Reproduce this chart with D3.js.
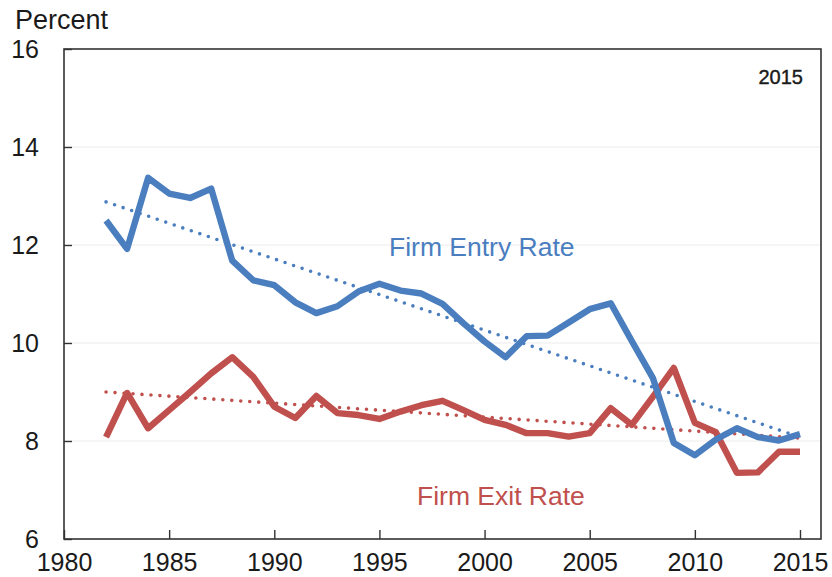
<!DOCTYPE html>
<html>
<head>
<meta charset="utf-8">
<script src="https://cdn.jsdelivr.net/npm/d3@7"></script>
<style>
  html, body { margin: 0; padding: 0; background: #fff; }
  svg { display: block; font-family: "Liberation Sans", Arial, sans-serif; }
</style>
</head>
<body>
<svg id="chart" width="832" height="577"></svg>
<script>
const years = d3.range(1982, 2016);
const entryRate = [12.5, 11.92, 13.37, 13.05, 12.96, 13.15, 11.68, 11.28, 11.18, 10.83,
                   10.61, 10.75, 11.05, 11.21, 11.07, 11.01, 10.8, 10.4, 10.03, 9.71,
                   10.14, 10.15, 10.42, 10.69, 10.81, 10.04, 9.29, 7.96, 7.71, 8.03,
                   8.26, 8.08, 8.01, 8.14];
const exitRate = [8.08, 8.98, 8.26, 8.63, 9.0, 9.38, 9.71, 9.31, 8.7, 8.47,
                  8.92, 8.57, 8.53, 8.45, 8.6, 8.73, 8.82, 8.63, 8.43, 8.33,
                  8.16, 8.16, 8.09, 8.16, 8.67, 8.33, 8.9, 9.49, 8.37, 8.18,
                  7.35, 7.36, 7.78, 7.78];
const trendYears = [1982, 2015];
const entryTrend = [12.88, 8.08];
const exitTrend = [9.0, 8.06];
const yTicks = [6, 8, 10, 12, 14, 16];
const xTicks = [1980, 1985, 1990, 1995, 2000, 2005, 2010, 2015];

const blue = "#4a7ebf", red = "#c0504d";
const svg = d3.select("#chart");
const L = 64, R = 821, T = 49, B = 539;
const x = d3.scaleLinear().domain([1980, 2015]).range([L, 800]);
const y = d3.scaleLinear().domain([6, 16]).range([B, T]);

// gridlines
svg.append("g").selectAll("line").data(yTicks.filter(d => d > 6 && d < 16)).join("line")
  .attr("x1", L).attr("x2", R).attr("y1", d => y(d)).attr("y2", d => y(d))
  .attr("stroke", "#ececec").attr("stroke-width", 1);

// frame
svg.append("rect").attr("x", L).attr("y", T).attr("width", R - L).attr("height", B - T)
  .attr("fill", "none").attr("stroke", "#333").attr("stroke-width", 1.6);

// y axis (ticks inward)
const yAxis = d3.axisLeft(y).tickValues(yTicks).tickSize(-8).tickPadding(24).tickFormat(d3.format("d"));
const gy = svg.append("g").attr("transform", `translate(${L},0)`).call(yAxis);
gy.select(".domain").remove();
gy.selectAll(".tick line").attr("stroke", "#333").attr("stroke-width", 1.4);
gy.selectAll(".tick text").attr("font-size", 25).attr("fill", "#1a1a1a")
  .attr("font-family", "Liberation Sans, Arial, sans-serif").attr("x", -25);

// x axis (ticks inward)
const xAxis = d3.axisBottom(x).tickValues(xTicks).tickSize(-9).tickPadding(0).tickFormat(d3.format("d"));
const gx = svg.append("g").attr("transform", `translate(0,${B})`).call(xAxis);
gx.select(".domain").remove();
gx.selectAll(".tick line").attr("stroke", "#333").attr("stroke-width", 1.4);
gx.selectAll(".tick text").attr("font-size", 25).attr("fill", "#1a1a1a")
  .attr("font-family", "Liberation Sans, Arial, sans-serif").attr("y", 14).attr("dy", "0.71em");

// trend lines
const tline = d3.line().x(d => x(d[0])).y(d => y(d[1]));
[[entryTrend, blue], [exitTrend, red]].forEach(([vals, col]) => {
  svg.append("path").datum(trendYears.map((yr, i) => [yr, vals[i]]))
    .attr("d", tline).attr("fill", "none").attr("stroke", col)
    .attr("stroke-width", 3.6).attr("stroke-linecap", "round").attr("stroke-dasharray", "0 9");
});

// series
const line = d3.line().x(d => x(d[0])).y(d => y(d[1]));
[[exitRate, red], [entryRate, blue]].forEach(([vals, col]) => {
  svg.append("path").datum(years.map((yr, i) => [yr, vals[i]]))
    .attr("d", line).attr("fill", "none").attr("stroke", col)
    .attr("stroke-width", 6.4).attr("stroke-linejoin", "round");
});

// labels
svg.append("text").attr("x", 15).attr("y", 29).attr("font-size", 27).attr("fill", "#1a1a1a").text("Percent");
svg.append("text").attr("x", 803).attr("y", 84).attr("text-anchor", "end").attr("font-size", 20)
  .attr("fill", "#1a1a1a").attr("stroke", "#1a1a1a").attr("stroke-width", 0.4).text("2015");
svg.append("text").attr("x", 389).attr("y", 256).attr("font-size", 26.5).attr("fill", blue).text("Firm Entry Rate");
svg.append("text").attr("x", 417).attr("y", 505).attr("font-size", 26.5).attr("fill", red).text("Firm Exit Rate");
</script>
</body>
</html>
